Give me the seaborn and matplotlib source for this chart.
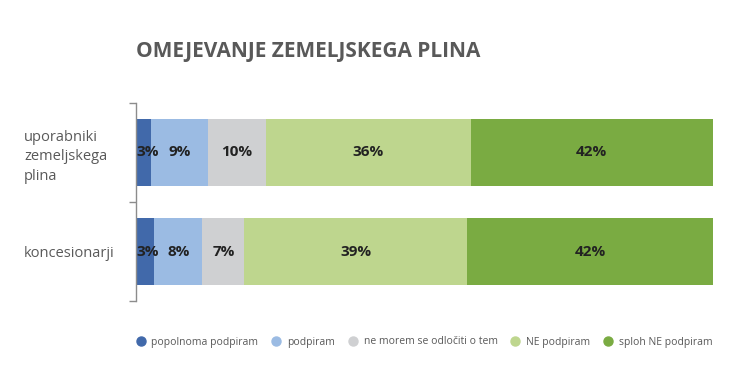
import matplotlib
matplotlib.use("Agg")
import matplotlib.pyplot as plt
from matplotlib.lines import Line2D
import seaborn as sns
import pandas as pd
import numpy as np

# data
groups = ["uporabniki\nzemeljskega\nplina", "koncesionarji"]
answers = ["popolnoma podpiram", "podpiram", "ne morem se odločiti o tem", "NE podpiram", "sploh NE podpiram"]
colors = ["#4169AA", "#9BBBE3", "#CFD0D2", "#BED68E", "#7AAB42"]
uporabniki = [2.6, 9.9, 10.0, 35.5, 42.0]
koncesionarji = [3.2, 8.3, 7.3, 38.6, 42.6]
labels_uporabniki = ["3%", "9%", "10%", "36%", "42%"]
labels_koncesionarji = ["3%", "8%", "7%", "39%", "42%"]

sns.set_style("white")
plt.rcParams['font.family'] = ['Open Sans', 'DejaVu Sans']

vals = np.array([uporabniki, koncesionarji])
cum = vals.cumsum(axis=1)

fig = plt.figure(figsize=(7.36, 3.83), dpi=100)
ax = fig.add_axes([136 / 736, 82 / 383, (713 - 136) / 736, (301 - 103) / 383])

# stacked bars: draw cumulative totals from the last answer backwards
for j in range(len(answers) - 1, -1, -1):
    df = pd.DataFrame({"group": groups, "value": cum[:, j]})
    sns.barplot(data=df, x="value", y="group", orient="h", color=colors[j],
                width=0.68, saturation=1, ax=ax, linewidth=0)

all_labels = [labels_uporabniki, labels_koncesionarji]
for i in range(len(groups)):
    for j in range(len(answers)):
        left = cum[i, j] - vals[i, j]
        if vals[i, j] < 5:
            ax.text(left + 0.1, i, all_labels[i][j], ha="left", va="center",
                    fontsize=11, fontweight="bold", color="#222222")
        else:
            ax.text(left + vals[i, j] / 2, i, all_labels[i][j], ha="center", va="center",
                    fontsize=11, fontweight="bold", color="#222222")

ax.set_xlim(0, 100)
ax.set_ylim(1.5, -0.5)
ax.set_xlabel("")
ax.set_ylabel("")
ax.set_xticks([])
for s in ["top", "right", "bottom"]:
    ax.spines[s].set_visible(False)
ax.spines["left"].set_color("#8c8c8c")
ax.spines["left"].set_linewidth(1)
ax.set_yticks([-0.5, 0.5, 1.5], minor=True)
ax.tick_params(axis="y", which="minor", length=5, color="#8c8c8c", width=1, direction="out", left=True)
ax.tick_params(axis="y", which="major", length=0, pad=112 * 0.72)
for t in ax.get_yticklabels():
    t.set_horizontalalignment("left")
    t.set_fontsize(10.5)
    t.set_color("#595959")
    t.set_linespacing(1.45)

fig.text(136 / 736, 1 - 52 / 383, "OMEJEVANJE ZEMELJSKEGA PLINA", ha="left", va="center",
         fontsize=15, fontweight="bold", color="#595959")

handles = [Line2D([], [], marker="o", linestyle="", markersize=6.5, markerfacecolor=c,
                  markeredgecolor=c) for c in colors]
fig.legend(handles, answers, loc="center", bbox_to_anchor=(424.5 / 736, 1 - 342 / 383), ncol=5,
           frameon=False, fontsize=7.5, handlelength=0.8, handletextpad=0.65, columnspacing=1.3,
           labelcolor="#595959")

plt.savefig("out.png", dpi=100)
